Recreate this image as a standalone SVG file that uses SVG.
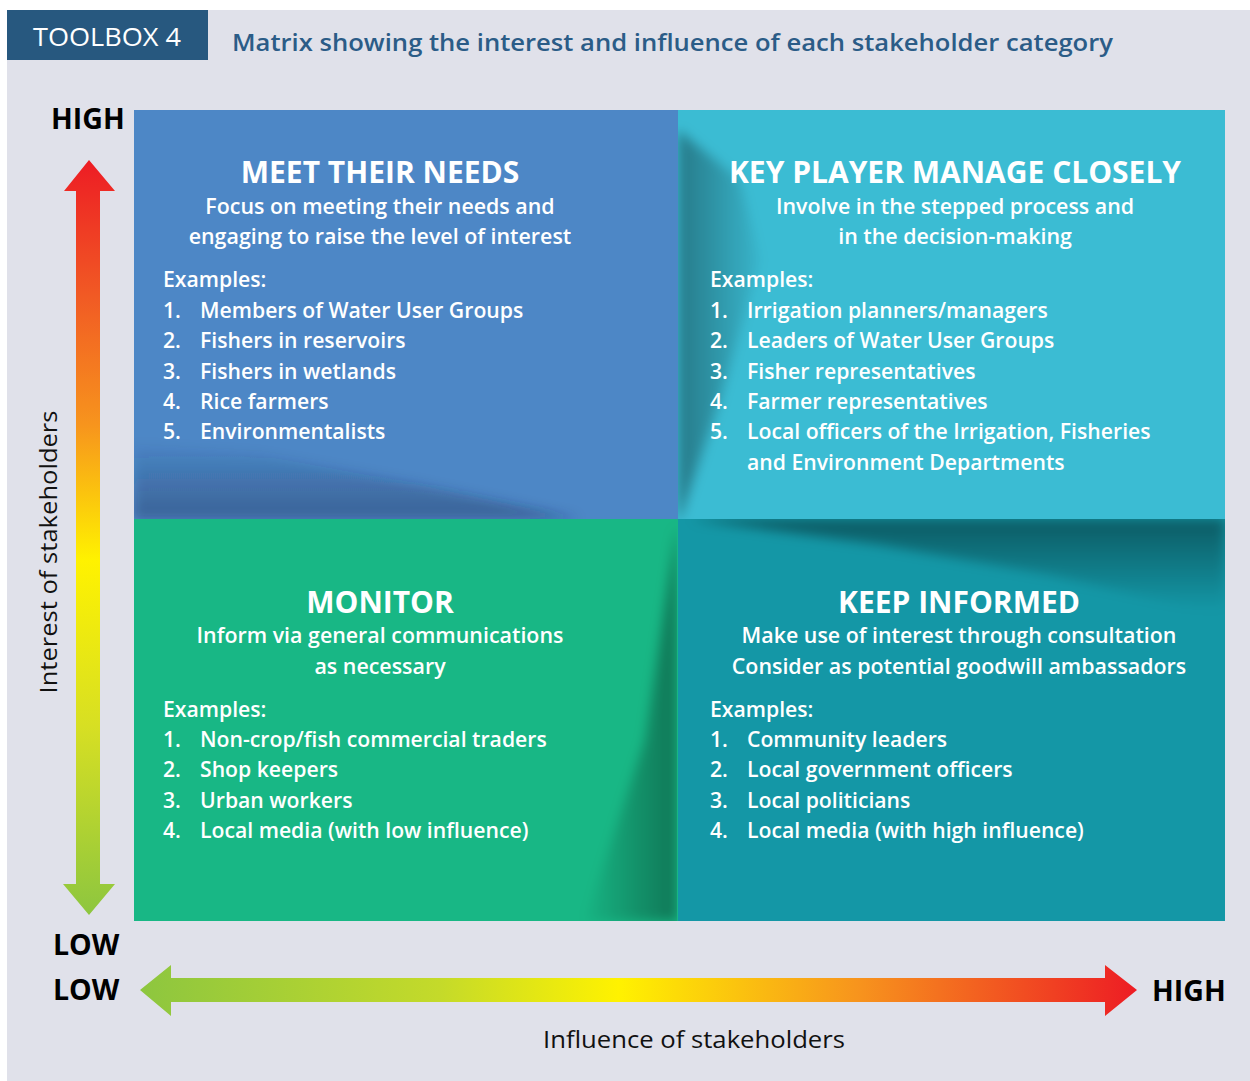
<svg xmlns="http://www.w3.org/2000/svg" width="1250" height="1081" viewBox="0 0 1250 1081">
<defs>
<style>
.ttl{font-family:"Open Sans","Noto Sans","Liberation Sans",sans-serif;font-weight:700;font-size:30px;fill:#fff;text-anchor:middle}
.sub{font-family:"Open Sans","Noto Sans","Liberation Sans",sans-serif;font-weight:600;font-size:21.4px;fill:#fff;text-anchor:middle}
.bd{font-family:"Open Sans","Noto Sans","Liberation Sans",sans-serif;font-weight:600;font-size:21.2px;fill:#fff}
.ax{font-family:"Open Sans","Noto Sans","Liberation Sans",sans-serif;font-weight:700;font-size:28.5px;fill:#000}
.axl{font-family:"Open Sans","Noto Sans","Liberation Sans",sans-serif;font-weight:400;font-size:24px;fill:#111}
</style>
<linearGradient id="vg" x1="0" y1="160" x2="0" y2="915" gradientUnits="userSpaceOnUse">
<stop offset="0" stop-color="#ed1c24"/>
<stop offset="0.18" stop-color="#f15a24"/>
<stop offset="0.35" stop-color="#f7941d"/>
<stop offset="0.53" stop-color="#fff200"/>
<stop offset="0.75" stop-color="#d7df23"/>
<stop offset="1" stop-color="#8dc63f"/>
</linearGradient>
<linearGradient id="hg" x1="140" y1="0" x2="1137" y2="0" gradientUnits="userSpaceOnUse">
<stop offset="0" stop-color="#8dc63f"/>
<stop offset="0.3" stop-color="#c4da2a"/>
<stop offset="0.48" stop-color="#fff200"/>
<stop offset="0.72" stop-color="#f7941d"/>
<stop offset="1" stop-color="#ed1c24"/>
</linearGradient>
<linearGradient id="sTL" x1="0" y1="440" x2="0" y2="519" gradientUnits="userSpaceOnUse">
<stop offset="0" stop-color="#1a2a50" stop-opacity="0"/>
<stop offset="1" stop-color="#1a2a50" stop-opacity="0.4"/>
</linearGradient>
<linearGradient id="sTR" x1="678" y1="0" x2="770" y2="0" gradientUnits="userSpaceOnUse">
<stop offset="0" stop-color="#000" stop-opacity="0.35"/>
<stop offset="1" stop-color="#000" stop-opacity="0"/>
</linearGradient>
<linearGradient id="sBR" x1="0" y1="519" x2="0" y2="610" gradientUnits="userSpaceOnUse">
<stop offset="0" stop-color="#000" stop-opacity="0.4"/>
<stop offset="1" stop-color="#000" stop-opacity="0"/>
</linearGradient>
<linearGradient id="sBL" x1="677" y1="0" x2="580" y2="0" gradientUnits="userSpaceOnUse">
<stop offset="0" stop-color="#000" stop-opacity="0.35"/>
<stop offset="1" stop-color="#000" stop-opacity="0"/>
</linearGradient>
<filter id="blur" x="-20%" y="-20%" width="140%" height="140%"><feGaussianBlur stdDeviation="6"/></filter>
<clipPath id="cTL"><rect x="134" y="110" width="543" height="409"/></clipPath>
<clipPath id="cTR"><rect x="678" y="110" width="547" height="409"/></clipPath>
<clipPath id="cBL"><rect x="134" y="519" width="543" height="402"/></clipPath>
<clipPath id="cBR"><rect x="678" y="519" width="547" height="402"/></clipPath>
</defs>

<rect x="0" y="0" width="1250" height="1081" fill="#fff"/>
<rect x="7" y="10" width="1243" height="1071" fill="#e0e1ea"/>

<g id="header">
<rect x="7" y="10" width="201" height="50" fill="#27587f"/>
<text x="33" y="46" font-family="'Open Sans','Noto Sans','Liberation Sans',sans-serif" font-weight="500" font-size="25" fill="#fff" textLength="148" lengthAdjust="spacingAndGlyphs">TOOLBOX 4</text>
<text x="232" y="51" font-family="'Open Sans','Noto Sans','Liberation Sans',sans-serif" font-weight="600" font-size="24" fill="#2b5c87" textLength="881" lengthAdjust="spacingAndGlyphs">Matrix showing the interest and influence of each stakeholder category</text>
</g>

<g id="q-meet">
<rect x="134" y="110" width="544" height="409" fill="#4d87c6"/>
<g clip-path="url(#cTL)"><polygon points="134,445 260,455 420,485 580,519 134,519" fill="url(#sTL)" filter="url(#blur)"/></g>
<text class="ttl" x="380" y="183">MEET THEIR NEEDS</text>
<text class="sub" x="380" y="214">Focus on meeting their needs and</text>
<text class="sub" x="380" y="244">engaging to raise the level of interest</text>
<text class="bd" x="163" y="287">Examples:</text>
<text class="bd" x="163" y="318">1.</text><text class="bd" x="200" y="318">Members of Water User Groups</text>
<text class="bd" x="163" y="348">2.</text><text class="bd" x="200" y="348">Fishers in reservoirs</text>
<text class="bd" x="163" y="379">3.</text><text class="bd" x="200" y="379">Fishers in wetlands</text>
<text class="bd" x="163" y="409">4.</text><text class="bd" x="200" y="409">Rice farmers</text>
<text class="bd" x="163" y="439">5.</text><text class="bd" x="200" y="439">Environmentalists</text>
</g>

<g id="q-key">
<rect x="678" y="110" width="547" height="409" fill="#3bbcd3"/>
<g clip-path="url(#cTR)"><polygon points="678,130 740,180 760,260 720,400 680,519 678,519" fill="url(#sTR)" filter="url(#blur)"/></g>
<text class="ttl" x="955" y="183">KEY PLAYER MANAGE CLOSELY</text>
<text class="sub" x="955" y="214">Involve in the stepped process and</text>
<text class="sub" x="955" y="244">in the decision-making</text>
<text class="bd" x="710" y="287">Examples:</text>
<text class="bd" x="710" y="318">1.</text><text class="bd" x="747" y="318">Irrigation planners/managers</text>
<text class="bd" x="710" y="348">2.</text><text class="bd" x="747" y="348">Leaders of Water User Groups</text>
<text class="bd" x="710" y="379">3.</text><text class="bd" x="747" y="379">Fisher representatives</text>
<text class="bd" x="710" y="409">4.</text><text class="bd" x="747" y="409">Farmer representatives</text>
<text class="bd" x="710" y="439">5.</text><text class="bd" x="747" y="439">Local officers of the Irrigation, Fisheries</text>
<text class="bd" x="747" y="470">and Environment Departments</text>
</g>

<g id="q-monitor">
<rect x="134" y="519" width="544" height="402" fill="#18b785"/>
<g clip-path="url(#cBL)"><polygon points="677,525 677,921 585,921 645,740" fill="url(#sBL)" filter="url(#blur)"/></g>
<text class="ttl" x="380" y="613">MONITOR</text>
<text class="sub" x="380" y="643">Inform via general communications</text>
<text class="sub" x="380" y="674">as necessary</text>
<text class="bd" x="163" y="717">Examples:</text>
<text class="bd" x="163" y="747">1.</text><text class="bd" x="200" y="747">Non-crop/fish commercial traders</text>
<text class="bd" x="163" y="777">2.</text><text class="bd" x="200" y="777">Shop keepers</text>
<text class="bd" x="163" y="808">3.</text><text class="bd" x="200" y="808">Urban workers</text>
<text class="bd" x="163" y="838">4.</text><text class="bd" x="200" y="838">Local media (with low influence)</text>
</g>

<g id="q-inform">
<rect x="678" y="519" width="547" height="402" fill="#1497a6"/>
<g clip-path="url(#cBR)"><polygon points="690,519 1225,519 1225,615 1050,575 880,545" fill="url(#sBR)" filter="url(#blur)"/></g>
<text class="ttl" x="959" y="613">KEEP INFORMED</text>
<text class="sub" x="959" y="643">Make use of interest through consultation</text>
<text class="sub" x="959" y="674">Consider as potential goodwill ambassadors</text>
<text class="bd" x="710" y="717">Examples:</text>
<text class="bd" x="710" y="747">1.</text><text class="bd" x="747" y="747">Community leaders</text>
<text class="bd" x="710" y="777">2.</text><text class="bd" x="747" y="777">Local government officers</text>
<text class="bd" x="710" y="808">3.</text><text class="bd" x="747" y="808">Local politicians</text>
<text class="bd" x="710" y="838">4.</text><text class="bd" x="747" y="838">Local media (with high influence)</text>
</g>

<g id="connectors">
<polygon id="v-arrow" points="89,160 115,191 100,191 100,884 115,884 89,915 63,884 76,884 76,191 64,191" fill="url(#vg)"/>
<polygon id="h-arrow" points="140,990 171,965 171,978 1105,978 1105,965 1137,990 1105,1016 1105,1002 171,1002 171,1016" fill="url(#hg)"/>
</g>

<g id="axis-labels">
<text class="ax" x="51" y="129">HIGH</text>
<text class="ax" x="53" y="955">LOW</text>
<text class="ax" x="53" y="1000">LOW</text>
<text class="ax" x="1152" y="1001">HIGH</text>
<text class="axl" transform="translate(57,552) rotate(-90)" text-anchor="middle" textLength="283" lengthAdjust="spacingAndGlyphs">Interest of stakeholders</text>
<text class="axl" x="694" y="1048" text-anchor="middle" textLength="302" lengthAdjust="spacingAndGlyphs">Influence of stakeholders</text>
</g>
</svg>
